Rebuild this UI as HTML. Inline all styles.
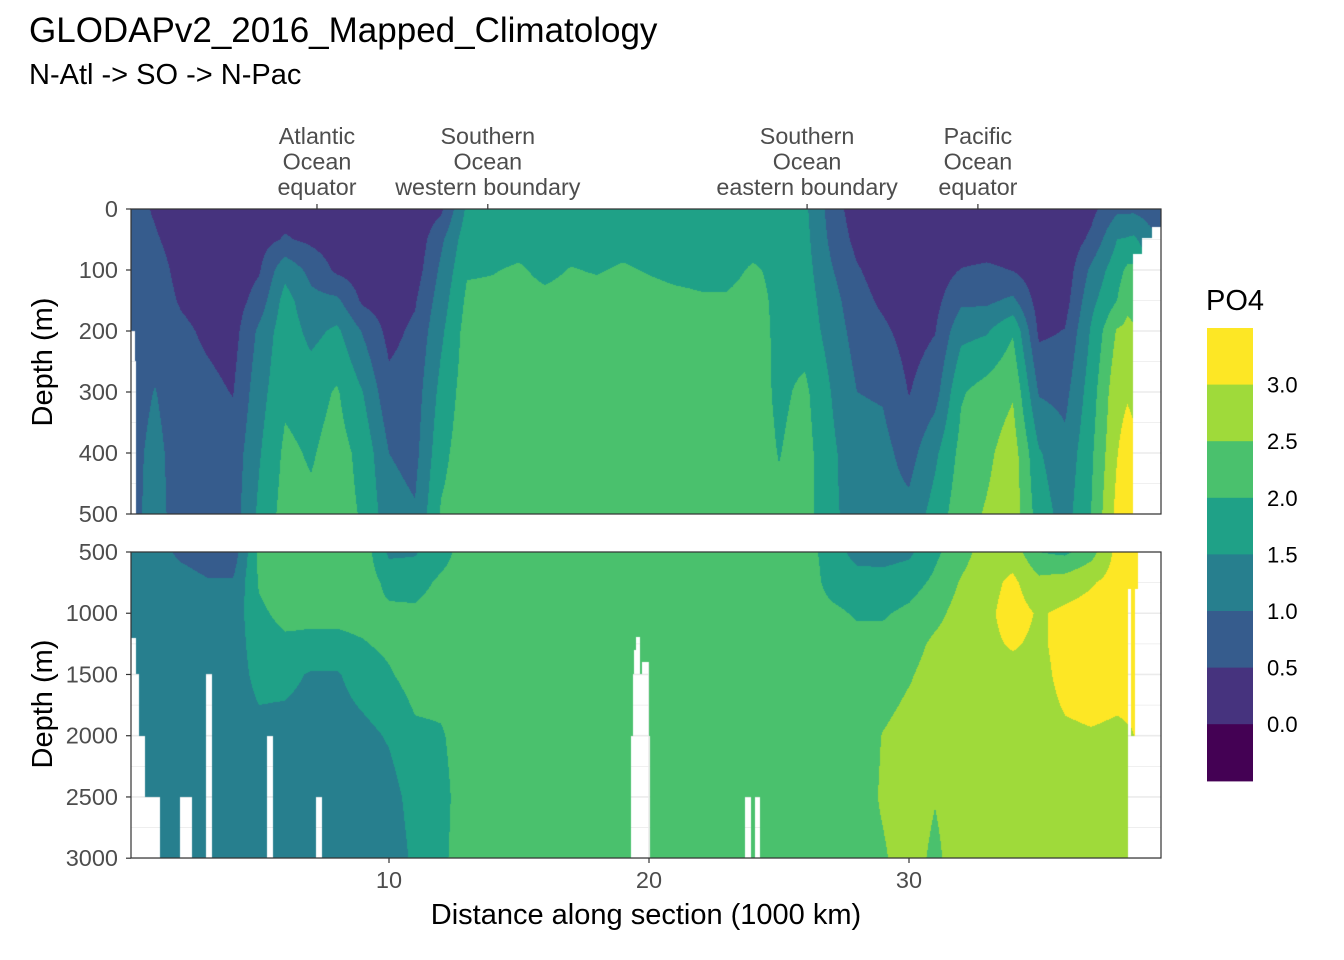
<!DOCTYPE html>
<html><head><meta charset="utf-8"><style>
body{margin:0;background:#fff;}
#wrap{position:relative;width:1344px;height:960px;overflow:hidden;font-family:"Liberation Sans",sans-serif;}
svg,canvas{position:absolute;left:0;top:0;}
</style></head><body>
<div id="wrap">
<svg id="bg" width="1344" height="960"></svg>
<canvas id="cTop" width="1030" height="305" style="left:131px;top:209px"></canvas>
<canvas id="cBot" width="1030" height="306" style="left:131px;top:552px"></canvas>
<svg id="fg" width="1344" height="960">
<text x="29" y="42" font-size="35" fill="#000">GLODAPv2_2016_Mapped_Climatology</text>
<text x="29" y="84" font-size="29" fill="#000">N-Atl -&gt; SO -&gt; N-Pac</text>
<text transform="translate(52,362) rotate(-90)" text-anchor="middle" font-size="29">Depth (m)</text>
<text transform="translate(52,704) rotate(-90)" text-anchor="middle" font-size="29">Depth (m)</text>
<text x="646" y="924" text-anchor="middle" font-size="29">Distance along section (1000 km)</text>
<text x="1206" y="310" font-size="29">PO4</text>
</svg>
</div>
<script>
// ---- data ----
const distances=[0,1,2,3,4,5,6,7,8,9,10,11,12,13,14,15,16,17,18,19,20,21,22,23,24,25,26,27,28,29,30,31,32,33,34,35,36,37,38,38.4,38.65,39.2,39.7];
const topDepths=[0,50,100,150,200,300,400,500];
const bottomDepths=[500,750,1000,1250,1500,2000,2500,3000];
const topValues=[
[0.7,0.72,0.75,0.75,0.75,0.75,0.8,0.8],
[0.45,0.55,0.7,0.75,0.8,1.02,1.15,1.2],
[0.2,0.3,0.35,0.45,0.6,0.7,0.75,0.75],
[0.2,0.2,0.25,0.3,0.42,0.62,0.75,0.75],
[0.15,0.2,0.2,0.25,0.3,0.48,0.7,0.75],
[0.2,0.3,0.45,0.7,1.1,1.3,1.45,1.6],
[0.3,0.55,1.35,1.7,1.8,1.9,2.1,2.2],
[0.2,0.4,0.85,1.15,1.35,1.8,1.95,2.1],
[0.2,0.25,0.4,1.1,1.6,2.05,2.2,2.2],
[0.15,0.2,0.25,0.4,0.95,1.5,1.85,1.95],
[0.1,0.15,0.2,0.25,0.35,0.65,1.0,1.2],
[0.1,0.15,0.25,0.45,0.6,0.75,0.85,1.05],
[0.4,0.9,1.1,1.25,1.4,1.65,1.85,2.05],
[1.6,1.8,1.95,2.1,2.2,2.25,2.3,2.3],
[1.6,1.8,1.98,2.1,2.2,2.25,2.25,2.25],
[1.6,1.85,2.05,2.15,2.2,2.25,2.25,2.25],
[1.6,1.8,1.9,2.1,2.2,2.25,2.25,2.25],
[1.6,1.85,2.02,2.15,2.2,2.25,2.25,2.25],
[1.6,1.8,1.97,2.15,2.2,2.25,2.25,2.25],
[1.6,1.85,2.05,2.15,2.2,2.25,2.25,2.25],
[1.6,1.8,1.97,2.15,2.2,2.25,2.25,2.25],
[1.6,1.8,1.9,2.1,2.2,2.25,2.25,2.25],
[1.6,1.8,1.88,2.05,2.2,2.25,2.25,2.25],
[1.6,1.8,1.88,2.05,2.2,2.25,2.25,2.25],
[1.6,1.85,2.05,2.15,2.2,2.25,2.25,2.25],
[1.7,1.8,1.9,1.9,1.9,1.9,1.98,2.1],
[1.6,1.65,1.7,1.75,1.8,2.1,2.2,2.2],
[0.8,0.9,1.05,1.2,1.3,1.5,1.6,1.6],
[0.2,0.35,0.55,0.7,0.8,1.0,1.2,1.3],
[0.1,0.15,0.25,0.4,0.6,0.95,1.15,1.2],
[0.1,0.12,0.15,0.2,0.3,0.48,0.8,1.15],
[0.1,0.15,0.25,0.35,0.48,0.8,1.4,1.7],
[0.1,0.2,0.52,0.9,1.35,1.95,2.15,2.3],
[0.1,0.2,0.6,0.9,1.45,2.2,2.4,2.55],
[0.1,0.2,0.48,1.1,1.95,2.45,2.75,2.8],
[0.1,0.15,0.2,0.28,0.4,0.95,1.55,1.75],
[0.1,0.15,0.2,0.3,0.52,0.85,1.15,1.3],
[0.35,0.6,1.1,1.35,1.55,1.75,1.9,2.0],
[0.9,1.5,1.8,2.0,2.55,2.85,2.98,3.15],
[0.9,1.55,2.1,2.4,2.6,2.95,3.2,3.25],
[0.9,1.6,2.1,2.35,2.55,2.9,3.1,3.2],
[0.8,1.2,1.6,2.0,2.5,2.9,3.1,3.2],
[0.8,0.9,1.6,2.0,2.5,2.9,3.1,3.2]];
const bottomValues=[
[1.2,1.25,1.25,1.25,1.25,1.25,1.25,1.25],
[1.2,1.25,1.25,1.25,1.25,1.25,1.25,1.25],
[0.9,1.2,1.25,1.25,1.25,1.25,1.25,1.25],
[0.75,1.05,1.2,1.25,1.25,1.25,1.25,1.25],
[0.7,1.05,1.2,1.25,1.25,1.25,1.25,1.25],
[2.1,2.05,1.9,1.75,1.65,1.35,1.25,1.2],
[2.3,2.3,2.15,1.9,1.65,1.3,1.25,1.2],
[2.3,2.3,2.1,1.9,1.45,1.25,1.25,1.2],
[2.3,2.3,2.12,1.88,1.45,1.25,1.25,1.2],
[2.3,2.3,2.15,1.97,1.75,1.35,1.25,1.2],
[1.4,1.85,2.1,2.1,1.95,1.55,1.3,1.2],
[1.45,1.8,2.1,2.2,2.2,1.9,1.7,1.6],
[1.8,2.1,2.25,2.25,2.2,1.95,1.85,1.9],
[2.25,2.25,2.25,2.25,2.25,2.25,2.25,2.25],
[2.25,2.25,2.25,2.25,2.25,2.25,2.25,2.25],
[2.25,2.25,2.25,2.25,2.25,2.25,2.25,2.25],
[2.25,2.25,2.25,2.25,2.25,2.25,2.25,2.25],
[2.25,2.25,2.25,2.25,2.25,2.25,2.25,2.25],
[2.25,2.25,2.25,2.25,2.25,2.25,2.25,2.25],
[2.25,2.25,2.25,2.25,2.25,2.25,2.25,2.25],
[2.25,2.25,2.25,2.25,2.25,2.25,2.25,2.25],
[2.25,2.25,2.25,2.25,2.25,2.25,2.25,2.25],
[2.25,2.25,2.25,2.25,2.25,2.25,2.25,2.25],
[2.25,2.25,2.25,2.25,2.25,2.25,2.25,2.25],
[2.25,2.25,2.25,2.25,2.25,2.25,2.25,2.25],
[2.25,2.25,2.25,2.25,2.25,2.25,2.25,2.25],
[2.2,2.25,2.25,2.25,2.25,2.25,2.25,2.25],
[1.8,1.85,2.1,2.2,2.25,2.25,2.25,2.25],
[1.3,1.75,1.95,2.15,2.2,2.25,2.3,2.3],
[1.3,1.7,1.95,2.15,2.25,2.52,2.55,2.45],
[1.4,1.8,2.1,2.3,2.45,2.7,2.75,2.7],
[1.9,2.1,2.35,2.6,2.7,2.7,2.52,2.4],
[2.3,2.55,2.7,2.75,2.75,2.75,2.75,2.75],
[2.75,2.85,2.9,2.9,2.85,2.8,2.75,2.75],
[2.8,3.1,3.2,3.05,2.85,2.8,2.75,2.75],
[2.0,2.65,2.95,2.9,2.8,2.75,2.75,2.75],
[1.9,2.75,3.1,3.2,3.2,2.9,2.8,2.75],
[2.3,2.95,3.2,3.3,3.3,2.95,2.8,2.75],
[3.15,3.2,3.3,3.3,3.2,2.9,2.8,2.75],
[3.2,3.2,3.3,3.3,3.2,2.95,2.8,2.75],
[3.2,3.2,3.2,3.2,3.1,3.0,2.8,2.75],
[3.2,3.2,3.2,3.2,3.1,3.0,2.8,2.75],
[3.2,3.2,3.2,3.2,3.1,3.0,2.8,2.75]];
// missing-data regions: [distance from, distance to, depth from]
const topGaps=[[0,0.23,200],[0,0.27,250],[38.6,40,74],[38.96,40,48],[39.35,40,30]];
const bottomGaps=[[0,0.27,1200],[0,0.38,1500],[0,0.62,2000],[0,1.19,2500],[1.96,2.42,2500],[2.96,3.19,1500],[5.31,5.54,2000],[7.19,7.42,2500],[19.5,19.65,1190],[19.42,19.65,1300],[19.73,20.0,1400],[19.38,19.96,1500],[19.31,20.04,2000],[23.69,23.92,2500],[24.08,24.27,2500],[38.42,38.54,800],[38.69,38.8,800],[38.54,38.69,2000],[38.8,40,500]];
const levels=[0,0.5,1,1.5,2,2.5,3];
const levelLabels=["0.0","0.5","1.0","1.5","2.0","2.5","3.0"];
const bandColors=["#440154","#46337E","#365C8D","#277F8E","#1FA187","#4AC16D","#9FDA3A","#FDE725"];
const xTicks=[10,20,30];
const topTicks=[0,100,200,300,400,500];
const bottomTicks=[500,1000,1500,2000,2500,3000];
const oceanLabels=[["Atlantic","Ocean","equator"],["Southern","Ocean","western boundary"],["Southern","Ocean","eastern boundary"],["Pacific","Ocean","equator"]];
const oceanPositions=[7.23,13.8,26.08,32.65];

// ---- scales ----
const xS=d=>129+26*d;
const yTop=z=>209+z*0.61;
const yBot=z=>552+(z-500)*0.12248;
const NS="http://www.w3.org/2000/svg";
function mk(parent,tag,attrs){const e=document.createElementNS(NS,tag);for(const k in attrs)e.setAttribute(k,attrs[k]);parent.appendChild(e);return e;}
const bg=document.getElementById('bg'),fg=document.getElementById('fg');

function panelGrid(y0,y1,ys,depths,minor){
  for(const z of minor){const l=mk(bg,'line',{x1:131,x2:1161,y1:ys(z),y2:ys(z),stroke:'#EBEBEB','stroke-width':0.8});
    
    }
  for(const z of depths){const l=mk(bg,'line',{x1:131,x2:1161,y1:ys(z),y2:ys(z),stroke:'#EBEBEB','stroke-width':1.6});
    
    }
  for(const d of [5,15,25,35]){const l=mk(bg,'line',{x1:xS(d),x2:xS(d),y1:y0,y2:y1,stroke:'#EBEBEB','stroke-width':0.8});
    
    }
  for(const d of xTicks){const l=mk(bg,'line',{x1:xS(d),x2:xS(d),y1:y0,y2:y1,stroke:'#EBEBEB','stroke-width':1.6});
    
    }
}
panelGrid(209,514,yTop,topTicks,[50,150,250,350,450]);
panelGrid(552,858,yBot,bottomTicks,[750,1250,1750,2250,2750]);

function band(v){let i=0;for(const t of levels){if(v>=t)i++;}return i;}
function hex(c){return [parseInt(c.slice(1,3),16),parseInt(c.slice(3,5),16),parseInt(c.slice(5,7),16)];}
const rgb=bandColors.map(hex);
function findIdx(arr,v){if(v<=arr[0])return [0,0];if(v>=arr[arr.length-1])return [arr.length-2,1];
  for(let i=0;i<arr.length-1;i++){if(v>=arr[i]&&v<=arr[i+1])return [i,(v-arr[i])/(arr[i+1]-arr[i])];}return [0,0];}
function renderPanel(id,left,top,w,h,depths,vals,gaps,invY){
  const cv=document.getElementById(id),ctx=cv.getContext('2d');const img=ctx.createImageData(w,h);
  const rows=[];for(let py=0;py<h;py++){rows.push(findIdx(depths,invY(top+py+0.5)));}
  for(let px=0;px<w;px++){
    const d=(left+px+0.5-129)/26;const [ci,cf]=findIdx(distances,d);
    const a=vals[ci],b=vals[ci+1];
    for(let py=0;py<h;py++){
      const z=invY(top+py+0.5);
      let miss=false;for(const g of gaps){if(d>=g[0]&&d<g[1]&&z>=g[2]){miss=true;break;}}
      if(miss)continue;
      const [ri,rf]=rows[py];
      const v=(a[ri]*(1-rf)+a[ri+1]*rf)*(1-cf)+(b[ri]*(1-rf)+b[ri+1]*rf)*cf;
      const c=rgb[band(v)];const k=(py*w+px)*4;
      img.data[k]=c[0];img.data[k+1]=c[1];img.data[k+2]=c[2];img.data[k+3]=255;}
  }
  ctx.putImageData(img,0,0);
}
renderPanel('cTop',131,209,1030,305,topDepths,topValues,topGaps,y=>(y-209)/0.61);
renderPanel('cBot',131,552,1030,306,bottomDepths,bottomValues,bottomGaps,y=>(y-552)/0.12248+500);

for(const [y0,y1,nm] of [[209,514,'upper-panel-border'],[552,858,'lower-panel-border']]){
  const r=mk(fg,'rect',{x:131,y:y0,width:1030,height:y1-y0,fill:'none',stroke:'#333','stroke-width':1.2});
  
  
}
function yAxis(ticks,ys){
  for(const z of ticks){
    const t=mk(fg,'line',{x1:126,x2:131,y1:ys(z),y2:ys(z),stroke:'#333','stroke-width':1.2});
    
    
    const l=mk(fg,'text',{x:118,y:ys(z)+8,'text-anchor':'end','font-size':23.5,fill:'#4D4D4D'});l.textContent=z;
    
    
  }
}
yAxis(topTicks,yTop);yAxis(bottomTicks,yBot);
for(const d of xTicks){
  const t=mk(fg,'line',{x1:xS(d),x2:xS(d),y1:858,y2:863,stroke:'#333','stroke-width':1.2});
  
  
  const l=mk(fg,'text',{x:xS(d),y:888,'text-anchor':'middle','font-size':23.5,fill:'#4D4D4D'});l.textContent=d;
  
  
}
oceanPositions.forEach((d,i)=>{
  const t=mk(fg,'line',{x1:xS(d),x2:xS(d),y1:204,y2:209,stroke:'#333','stroke-width':1.2});
  
  
  const tx=mk(fg,'text',{'text-anchor':'middle','font-size':23.3,fill:'#4D4D4D'});
  
  
  oceanLabels[i].forEach((s,j)=>{const ts=mk(tx,'tspan',{x:xS(d),y:144+j*25.5});ts.textContent=s;});
});
const barTop=328,barStep=56.6;
for(let i=0;i<bandColors.length;i++){
  const idx=bandColors.length-1-i;
  const r=mk(fg,'rect',{x:1207,y:barTop+i*barStep,width:46,height:barStep+0.6,fill:bandColors[idx]});
  
  
}
levels.forEach((lv,i)=>{
  const y=barTop+(levels.length-i)*barStep;
  const l=mk(fg,'text',{x:1267,y:y+8,'font-size':22,fill:'#000'});l.textContent=levelLabels[i];
  
  
});
</script>
</body></html>
